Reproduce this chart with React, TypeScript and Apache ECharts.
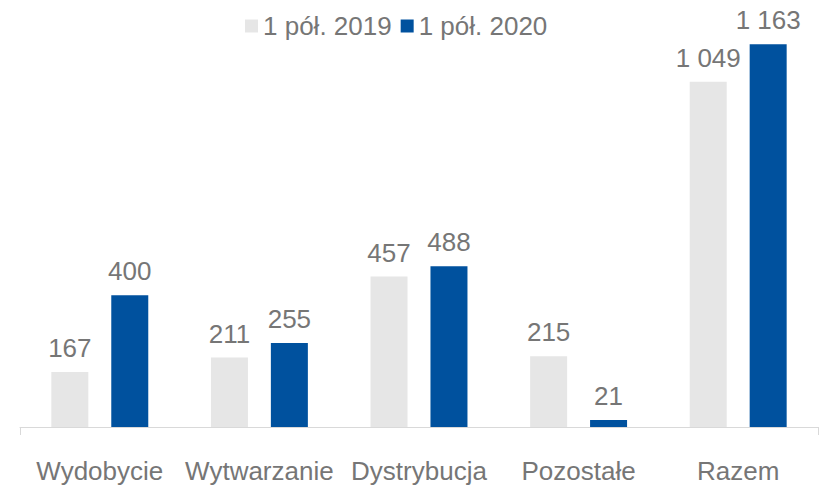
import React, { useEffect, useRef } from "react";
import * as echarts from "echarts";

const categories = ["Wydobycie", "Wytwarzanie", "Dystrybucja", "Pozostałe", "Razem"];
const seriesNames = ["1 pół. 2019", "1 pół. 2020"];
const values2019 = [167, 211, 457, 215, 1049];
const values2020 = [400, 255, 488, 21, 1163];

const fmt = (v: number) => {
  const s = String(v);
  return s.length > 3 ? s.slice(0, s.length - 3) + " " + s.slice(-3) : s;
};

export default function App() {
  const ref = useRef<HTMLDivElement>(null);
  useEffect(() => {
    const chart = echarts.init(ref.current!, null, { renderer: "svg" });
    const textColor = "#767676";
    const font = "'Liberation Sans', Arial, sans-serif";
    const label = {
      show: true,
      position: "top" as const,
      distance: 11,
      color: textColor,
      fontSize: 26,
      fontFamily: font,
      formatter: (p: any) => fmt(p.value),
    };
    chart.setOption({
      animation: false,
      legend: {
        left: 240,
        top: 8,
        itemWidth: 13,
        itemHeight: 13,
        itemGap: 9,
        icon: "rect",
        textStyle: { color: textColor, fontSize: 26, fontFamily: font },
        data: seriesNames,
      },
      grid: { left: 20, right: 2, top: 32, bottom: 64, containLabel: false },
      xAxis: {
        type: "category",
        data: categories,
        axisLine: { lineStyle: { color: "#D9D9D9", width: 1 } },
        axisTick: { show: true, length: 8, interval: (i: number) => i === 0, lineStyle: { color: "#D9D9D9" } },
        axisLabel: { color: textColor, fontSize: 26, fontFamily: font, margin: 31, interval: 0 },
      },
      yAxis: {
        type: "value",
        min: 0,
        max: 1200,
        show: false,
        splitLine: { show: false },
      },
      series: [
        {
          name: seriesNames[0],
          type: "bar",
          data: values2019,
          barWidth: 37,
          barGap: "62%",
          itemStyle: { color: "#E6E6E6" },
          label,
        },
        {
          name: seriesNames[1],
          type: "bar",
          data: values2020,
          barWidth: 37,
          itemStyle: { color: "#00519E" },
          label,
        },
      ],
    });
    return () => chart.dispose();
  }, []);
  return <div ref={ref} style={{ width: 820, height: 491, position: "absolute", left: 0, top: 0 }} />;
}
